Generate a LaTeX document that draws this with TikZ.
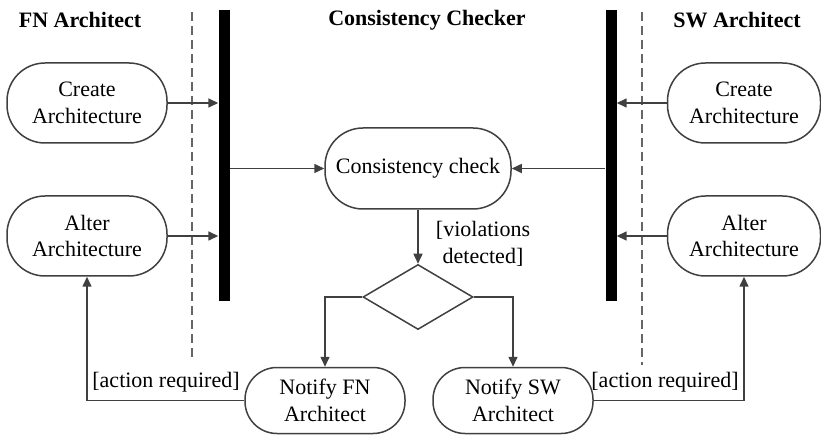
\documentclass[tikz,border=0pt]{standalone}
\usepackage{fontspec}
\setmainfont{Liberation Serif}
\usetikzlibrary{arrows.meta,shapes.geometric}
\definecolor{ink}{HTML}{404040}
\begin{document}
\begin{tikzpicture}[x=1pt,y=-1pt,
  every node/.style={font=\fontsize{22}{26.5}\selectfont},
  activity/.style={draw=ink, line width=1.5pt, rounded corners=38pt, align=center,
    inner sep=0pt, fill=white},
  bar/.style={fill=black, draw=none, minimum width=11pt, minimum height=291pt, inner sep=0pt},
  lane/.style={draw=ink!80, line width=1.1pt, dash pattern=on 9pt off 5pt},
  flow/.style={draw=ink, line width=1.5pt, -{Triangle[length=10pt,width=9pt]}},
  title/.style={font=\fontsize{22}{26.5}\selectfont\bfseries},
  guard/.style={align=center, inner sep=0pt}]
\useasboundingbox (0,0) rectangle (821,435);

% swimlane headings
\node[title] (tFN) at (80,20) {FN Architect};
\node[title] (tCC) at (427,20) {Consistency Checker};
\node[title] (tSW) at (737,20) {SW Architect};

% lane separators
\draw[lane] (192,12) -- (192,360);
\draw[lane] (642,12) -- (642,365);

% synchronisation bars
\node[bar] (barL) at (224,155.5) {};
\node[bar] (barR) at (611,155.5) {};

% activities
\node[activity, minimum width=160pt, minimum height=80pt] (createL) at (87,103) {Create\\Architecture};
\node[activity, minimum width=160pt, minimum height=80pt] (alterL) at (87,236) {Alter\\Architecture};
\node[activity, minimum width=153pt, minimum height=80pt] (createR) at (744,103) {Create\\Architecture};
\node[activity, minimum width=153pt, minimum height=80pt] (alterR) at (744,236) {Alter\\Architecture};
\node[activity, minimum width=186pt, minimum height=81pt] (check) at (418,168.5) {Consistency check};
\node[activity, minimum width=160pt, minimum height=66pt, rounded corners=32pt] (notFN) at (325,400.5) {Notify FN\\Architect};
\node[activity, minimum width=160pt, minimum height=66pt, rounded corners=32pt] (notSW) at (513,400.5) {Notify SW\\Architect};

% decision
\node[diamond, draw=ink, line width=1.5pt, minimum width=110pt, minimum height=65pt,
  inner sep=0pt, aspect=1.69] (dec) at (418,297) {};

% flows into the bars
\draw[flow] (createL.east) -- (createL.east -| barL.west);
\draw[flow] (alterL.east) -- (alterL.east -| barL.west);
\draw[flow] (createR.west) -- (createR.west -| barR.east);
\draw[flow] (alterR.west) -- (alterR.west -| barR.east);

% bars to the check
\draw[flow] (barL.east |- check.west) -- (check.west);
\draw[flow] (barR.west |- check.east) -- (check.east);

% check to decision
\draw[flow] (check.south) -- (dec.north);
\node[guard] (gViol) at (483,244) {[violations\\detected]};

% decision branches
\draw[flow] (dec.west) -| (notFN.north);
\draw[flow] (dec.east) -| (notSW.north);

% feedback to the architects
\draw[flow] (notFN.west) -| (alterL.south);
\draw[flow] (notSW.east) -| (alterR.south);
\node[guard] (gFN) at (166,382) {[action required]};
\node[guard] (gSW) at (665,382) {[action required]};
\end{tikzpicture}
\end{document}
